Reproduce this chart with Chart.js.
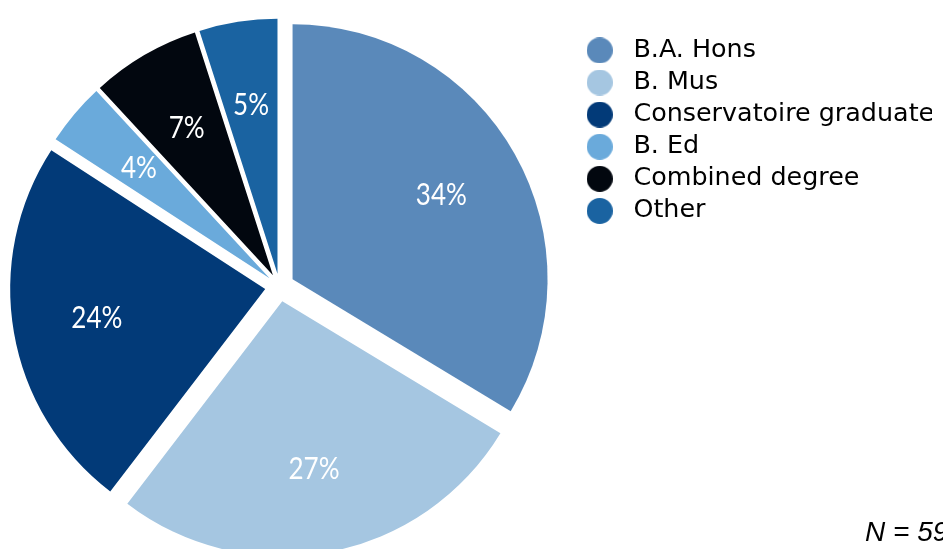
<!DOCTYPE html>
<html>
<head>
<meta charset="utf-8">
<title>Degree background</title>
<script src="https://cdn.jsdelivr.net/npm/chart.js@4.4.1/dist/chart.umd.min.js"></script>
<style>
  html, body { margin: 0; padding: 0; background: #fff; }
  body { width: 943px; height: 549px; overflow: hidden; position: relative; }
  #wrap { position: absolute; left: -13px; top: 0; width: 945px; height: 549px; }
  .note { position: absolute; left: 865px; top: 518px; font: italic 28px/28px "Liberation Sans", Arial, sans-serif; color: #000; white-space: nowrap; }
</style>
</head>
<body>
<div id="wrap"><canvas id="degreeChart" width="945" height="549"></canvas></div>
<div class="note" id="note"></div>
<script>
// degree held before entering, share of respondents (%)
const degrees = ['B.A. Hons', 'B. Mus', 'Conservatoire graduate', 'B. Ed', 'Combined degree', 'Other'];
const shares = [34, 27, 24, 4, 7, 5];
const respondents = 59;

const sliceColors = ['#5a89ba', '#a5c6e1', '#023a78', '#6aaadb', '#02070f', '#1a63a1'];

document.getElementById('note').textContent = 'N = ' + respondents;

// filled dot used as legend marker
function dot(color) {
    const c = document.createElement('canvas');
    c.width = 26;
    c.height = 26;
    const g = c.getContext('2d');
    g.fillStyle = color;
    g.beginPath();
    g.arc(13, 13, 13, 0, Math.PI * 2);
    g.fill();
    return c;
}

// pull each slice out along its bisector, keeping the radius as is
const explodePlugin = {
    id: 'explode',
    beforeDatasetDraw(chart, args) {
        const ds = chart.data.datasets[args.index];
        const ctx = chart.ctx;
        args.meta.data.forEach((arc, i) => {
            const mid = (arc.startAngle + arc.endAngle) / 2;
            const d = ds.explode[i] || 0;
            ctx.save();
            ctx.translate(Math.cos(mid) * d, Math.sin(mid) * d);
            arc.draw(ctx);
            ctx.restore();
        });
        return false;
    }
};

// percentage inside each slice (narrowed a bit, like the original face)
const sliceLabels = {
    id: 'sliceLabels',
    afterDatasetsDraw(chart) {
        const ds = chart.data.datasets[0];
        const ctx = chart.ctx;
        chart.getDatasetMeta(0).data.forEach((arc, i) => {
            const mid = (arc.startAngle + arc.endAngle) / 2;
            const r = (ds.explode[i] || 0) + arc.outerRadius * 0.67;
            ctx.save();
            ctx.translate(arc.x + Math.cos(mid) * r, arc.y + Math.sin(mid) * r);
            ctx.scale(0.84, 1);
            ctx.fillStyle = '#fff';
            ctx.font = '400 31px Lato, "Liberation Sans", sans-serif';
            ctx.textAlign = 'center';
            ctx.textBaseline = 'middle';
            ctx.fillText(ds.data[i] + '%', 0, 0);
            ctx.restore();
        });
    }
};

new Chart(document.getElementById('degreeChart'), {
    type: 'pie',
    data: {
        labels: degrees,
        datasets: [{
            data: shares,
            backgroundColor: sliceColors,
            borderWidth: 0,
            explode: [15, 15, 14.5, 13, 13, 13]
        }]
    },
    options: {
        responsive: false,
        animation: false,
        devicePixelRatio: 1,
        events: [],
        radius: 255,
        layout: { padding: { top: 31, bottom: 7, left: 0, right: 0 } },
        plugins: {
            legend: {
                position: 'right',
                align: 'start',
                maxWidth: 360,
                labels: {
                    usePointStyle: true,
                    pointStyleWidth: 42,
                    padding: 6.7,
                    color: '#000',
                    font: { family: '"DejaVu Sans"', size: 25.4 },
                    generateLabels(chart) {
                        const colors = chart.data.datasets[0].backgroundColor;
                        return chart.data.labels.map((text, i) => ({
                            text: text,
                            index: i,
                            fillStyle: colors[i],
                            strokeStyle: colors[i],
                            lineWidth: 0,
                            fontColor: '#000',
                            pointStyle: dot(colors[i]),
                            hidden: !chart.getDataVisibility(i)
                        }));
                    }
                }
            },
            tooltip: { enabled: false }
        }
    },
    plugins: [explodePlugin, sliceLabels]
});
</script>
</body>
</html>
